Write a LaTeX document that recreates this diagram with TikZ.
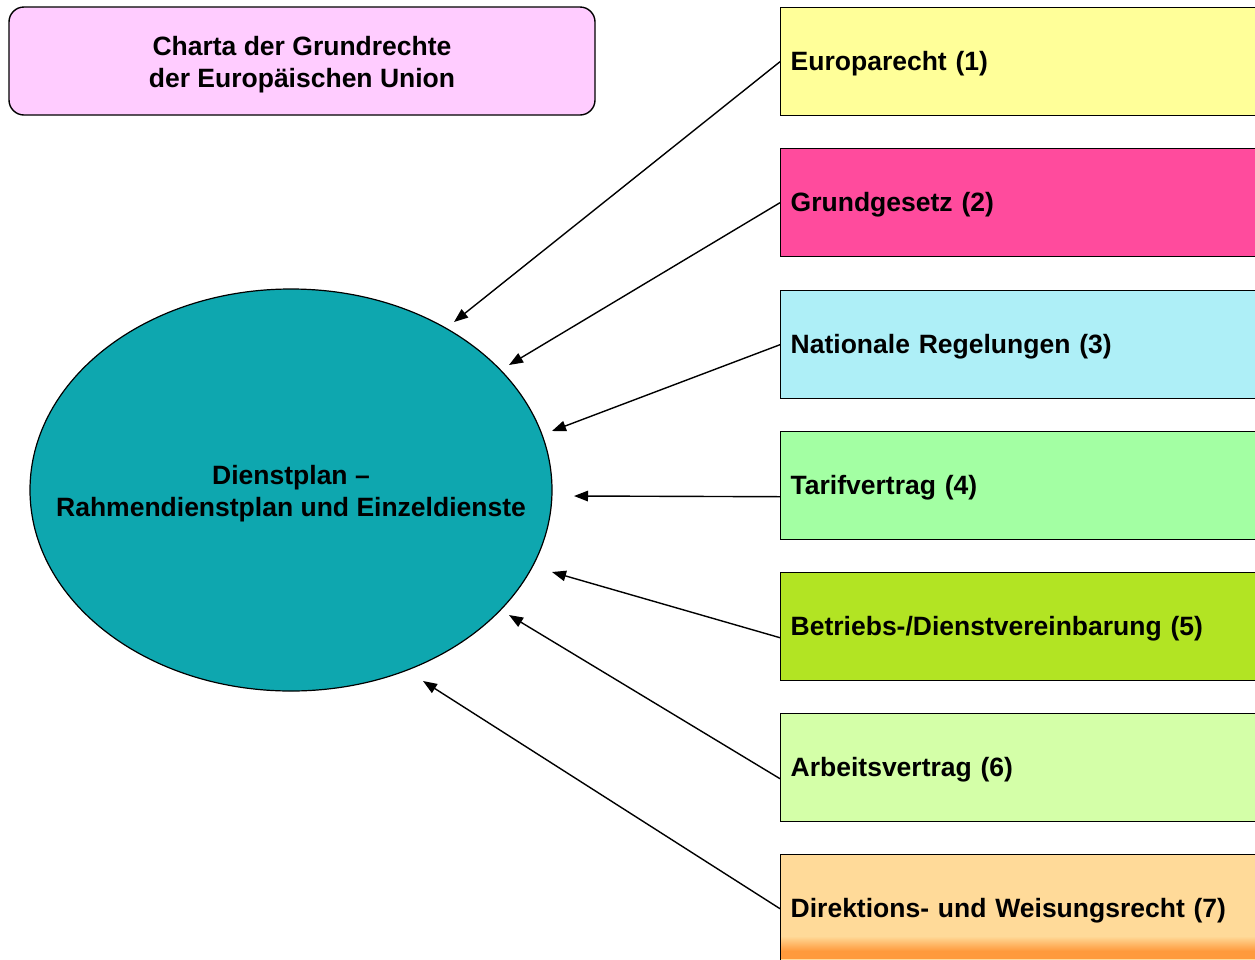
\documentclass[tikz,border=0pt]{standalone}
\usepackage{fontspec}
\setmainfont{Liberation Sans}
\usetikzlibrary{arrows.meta,shapes.geometric}

\definecolor{charta}{HTML}{FFCCFF}
\definecolor{plan}{HTML}{0EA7AF}
\definecolor{quelleA}{HTML}{FFFF99}
\definecolor{quelleB}{HTML}{FF4B9D}
\definecolor{quelleC}{HTML}{AEEFF7}
\definecolor{quelleD}{HTML}{A3FFA3}
\definecolor{quelleE}{HTML}{B2E423}
\definecolor{quelleF}{HTML}{D4FFA8}
\definecolor{quelleG}{HTML}{FFDA99}
\definecolor{quelleGrand}{HTML}{FF9A3C}

\begin{document}
\begin{tikzpicture}[x=1pt,y=-1pt]
\tikzstyle{every node}=[font=\fontsize{26.5}{32}\selectfont\bfseries]
\tikzstyle{quelle}=[draw, line width=1.4pt, anchor=north west, minimum width=520pt, minimum height=108pt, text width=500pt, text height=24pt, text depth=5.5pt, inner xsep=4pt, align=left]
\tikzstyle{pfeil}=[-{Triangle[length=14pt,width=10.5pt]}, line width=1.4pt]
\useasboundingbox (0,0) rectangle (1255,959);
\clip (0,0) rectangle (1255,959);
\node (ch) [draw, line width=1.4pt, rounded corners=15pt, fill=charta, minimum width=586pt, minimum height=108pt] at (302,61) {};
\node (chText) [align=center] at ([yshift=-4pt]ch.center) {Charta der Grundrechte\\der Europäischen Union};
\node (dp) [ellipse, draw, line width=1.2pt, fill=plan, minimum width=522pt, minimum height=402pt, inner sep=0pt] at (291,490) {};
\node (dpText) [align=center] at ([yshift=-4pt]dp.center) {Dienstplan –\\Rahmendienstplan und Einzeldienste};
\node (b1) [quelle, fill=quelleA] at (780,7) {Europarecht (1)};
\node (b2) [quelle, fill=quelleB] at (780,148) {Grundgesetz (2)};
\node (b3) [quelle, fill=quelleC] at (780,290) {Nationale Regelungen (3)};
\node (b4) [quelle, fill=quelleD] at (780,431) {Tarifvertrag (4)};
\node (b5) [quelle, fill=quelleE] at (780,572) {Betriebs-/Dienstvereinbarung (5)};
\node (b6) [quelle, fill=quelleF] at (780,713) {Arbeitsvertrag (6)};
\node (b7) [quelle, fill=quelleG] at (780,854) {Direktions- und Weisungsrecht (7)};
\shade[top color=quelleG, bottom color=quelleGrand] (781,936) rectangle (1255,951);
\fill[quelleGrand] (781,951) rectangle (1255,959);
% Pfeilspitzen vor der Ellipse
\coordinate (t1) at (454,322);
\coordinate (t2) at (509,365);
\coordinate (t3) at (552,431);
\coordinate (t4) at (574,496);
\coordinate (t5) at (552,572);
\coordinate (t6) at (509,615);
\coordinate (t7) at (423,681);
\draw[pfeil] (b1.west) -- (t1);
\draw[pfeil] (b2.west) -- (t2);
\draw[pfeil] (b3.west) -- (t3);
\draw[pfeil] ([yshift=-11pt]b4.west) -- (t4);
\draw[pfeil] ([yshift=-11pt]b5.west) -- (t5);
\draw[pfeil] ([yshift=-11pt]b6.west) -- (t6);
\draw[pfeil] (b7.west) -- (t7);
\end{tikzpicture}
\end{document}
